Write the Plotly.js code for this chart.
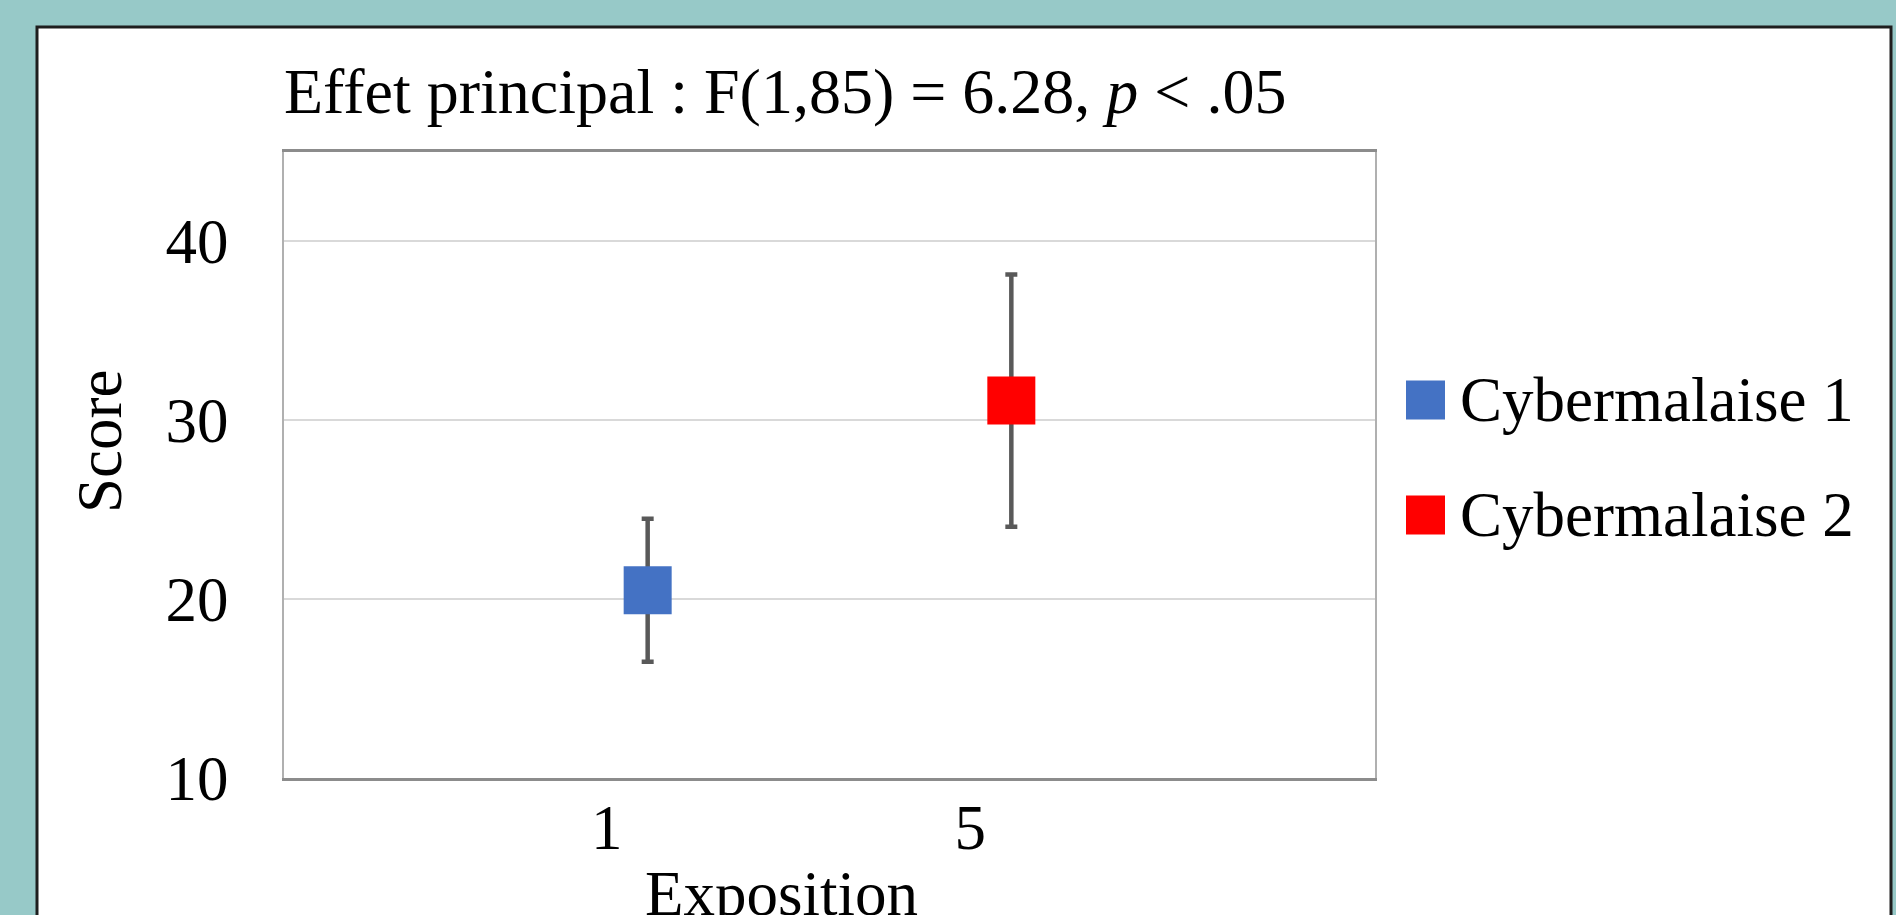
<!DOCTYPE html>
<html>
<head>
<meta charset="utf-8">
<script src="https://cdn.plot.ly/plotly-3.0.1.min.js"></script>
<style>html,body{margin:0;padding:0;background:#97C9C8;}#chart{width:1896px;height:915px;}</style>
</head>
<body>
<div id="chart"></div>
<script>
// ---- data ----
var exposition = ["1", "5"];
var seriesNames = ["Cybermalaise 1", "Cybermalaise 2"];
var seriesColors = ["#4472C4", "#FF0000"];
var meanScores = [20.5, 31.1];
var errScores = [4.0, 7.05];
var yTicks = [10, 20, 30, 40];
var chartTitle = "Effet principal : F(1,85) = 6.28, <i>p</i> &lt; .05";
var xTitle = "Exposition";
var yTitle = "Score";

var FONT = '"Liberation Serif", "Times New Roman", serif';
var FS = 63;
var W = 1896, H = 915;
var L = 284, R = 1375, T = 152, B = 778;
function px2x(p){ return (p - L) / (R - L); }
function px2y(p){ return (B - p) / (B - T); }

var traces = seriesNames.map(function(name, i){
  return {
    type: 'scatter', mode: 'markers', name: name, showlegend: false,
    x: [exposition[i]], y: [meanScores[i]],
    marker: {symbol: 'square', size: 48, color: seriesColors[i], line: {width: 0}},
    error_y: {type: 'data', array: [errScores[i]], symmetric: true,
              color: '#595959', thickness: 4.5, width: 6}
  };
});

var shapes = [{
  type: 'rect', xref: 'paper', yref: 'paper', layer: 'below',
  x0: px2x(37), x1: px2x(1891), y0: px2y(1000), y1: px2y(27),
  fillcolor: '#FFFFFF', line: {color: '#1E1E1E', width: 3}
}];
var annotations = [{
  xref: 'paper', yref: 'paper', x: px2x(781), y: px2y(894),
  xanchor: 'center', yanchor: 'middle', showarrow: false,
  text: xTitle, font: {family: FONT, size: FS, color: '#000'}
}, {
  xref: 'paper', yref: 'paper', x: px2x(100), y: px2y(442),
  xanchor: 'center', yanchor: 'middle', showarrow: false, textangle: -90,
  text: yTitle, font: {family: FONT, size: FS, color: '#000'}
}];
var legendY = [400, 515];
seriesNames.forEach(function(name, i){
  shapes.push({
    type: 'rect', xref: 'paper', yref: 'paper',
    x0: px2x(1406), x1: px2x(1445), y0: px2y(legendY[i] + 19.5), y1: px2y(legendY[i] - 19.5),
    fillcolor: seriesColors[i], line: {width: 0}
  });
  annotations.push({
    xref: 'paper', yref: 'paper', x: px2x(1458), y: px2y(legendY[i]),
    xanchor: 'left', yanchor: 'middle', showarrow: false,
    text: name, font: {family: FONT, size: FS, color: '#000'}
  });
});

var layout = {
  width: W, height: H,
  margin: {l: L, r: W - R, t: T, b: H - B, pad: 0},
  paper_bgcolor: '#97C9C8', plot_bgcolor: 'rgba(0,0,0,0)',
  showlegend: false,
  font: {family: FONT, size: FS, color: '#000'},
  title: {text: chartTitle, font: {family: FONT, size: 64, color: '#000'},
          xref: 'paper', x: 0, xanchor: 'left', yref: 'container', y: 1 - 91 / H, yanchor: 'middle'},
  xaxis: {type: 'category', categoryorder: 'array', categoryarray: exposition,
          range: [-1, 2], showgrid: false, zeroline: false,
          showline: true, linecolor: '#8C8C8C', linewidth: 3, mirror: true,
          ticks: '', ticklabelshift: -41, ticklabelstandoff: -8,
          tickfont: {family: FONT, size: FS, color: '#000'}, fixedrange: true},
  yaxis: {range: [10, 45], tickvals: yTicks, showgrid: true, gridcolor: '#D9D9D9', gridwidth: 2,
          zeroline: false, showline: true, linecolor: '#B0B0B0', linewidth: 2, mirror: true,
          ticks: '', ticklabelstandoff: 41,
          tickfont: {family: FONT, size: FS, color: '#000'},
          automargin: false, fixedrange: true},
  shapes: shapes,
  annotations: annotations
};

Plotly.newPlot('chart', traces, layout, {displayModeBar: false, staticPlot: true});
</script>
</body>
</html>
